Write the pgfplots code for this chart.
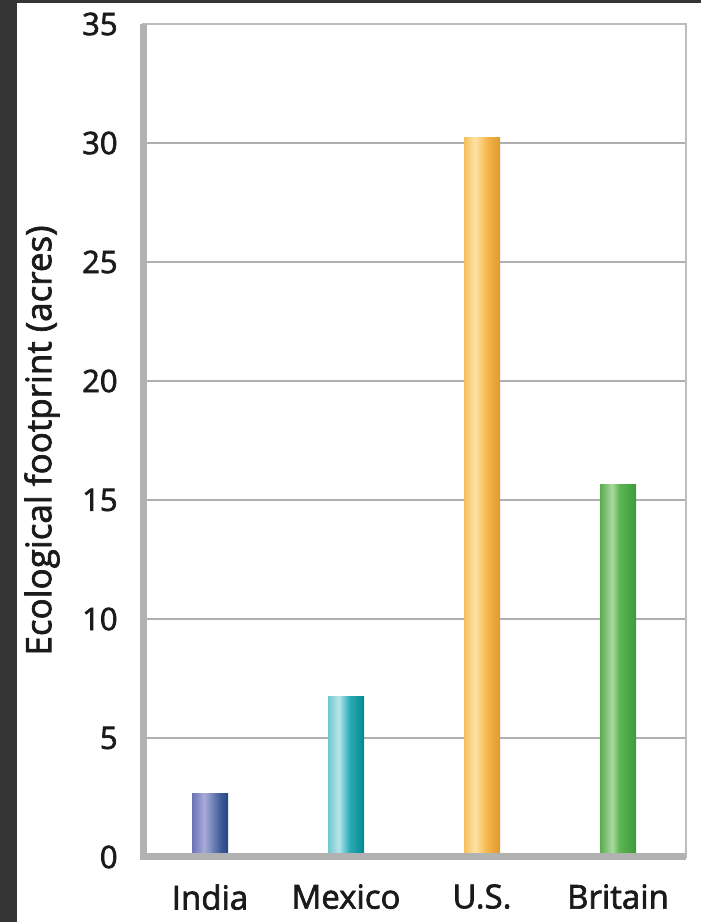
\documentclass[border=0pt]{standalone}
\usepackage{pgfplots}
\pgfplotsset{compat=1.18}
\usepackage{fontspec}
\setmainfont{Open Sans}
\newfontfamily\lab{Open Sans}[FakeBold=2]
\definecolor{darkframe}{HTML}{353535}
\definecolor{gridgray}{HTML}{AFAFAF}
\definecolor{bordergray}{HTML}{BDBDBD}
\definecolor{thickgray}{HTML}{B2B2B2}
\definecolor{txt}{HTML}{1A1A1A}
% India
\definecolor{inA}{HTML}{6C72B8}\definecolor{inB}{HTML}{A9ABD8}\definecolor{inC}{HTML}{3E5A98}\definecolor{inD}{HTML}{254583}
% Mexico
\definecolor{mxA}{HTML}{6EC8D2}\definecolor{mxB}{HTML}{B8E4E8}\definecolor{mxC}{HTML}{2EAAB5}\definecolor{mxD}{HTML}{008A92}
% US
\definecolor{usA}{HTML}{F7BF5A}\definecolor{usB}{HTML}{FFE2A6}\definecolor{usC}{HTML}{F2B449}\definecolor{usD}{HTML}{DE9A2C}
% Britain
\definecolor{brA}{HTML}{58AD4C}\definecolor{brB}{HTML}{ACD8A0}\definecolor{brC}{HTML}{5DB552}\definecolor{brD}{HTML}{3D9A3A}
\pgfdeclarehorizontalshading{indiash}{100bp}{color(0bp)=(inA); color(25bp)=(inA); color(42bp)=(inB); color(65bp)=(inC); color(75bp)=(inD); color(100bp)=(inD)}
\pgfdeclarehorizontalshading{mexsh}{100bp}{color(0bp)=(mxA); color(25bp)=(mxA); color(40bp)=(mxB); color(55bp)=(mxC); color(75bp)=(mxD); color(100bp)=(mxD)}
\pgfdeclarehorizontalshading{ussh}{100bp}{color(0bp)=(usA); color(25bp)=(usA); color(40bp)=(usB); color(58bp)=(usC); color(75bp)=(usD); color(100bp)=(usD)}
\pgfdeclarehorizontalshading{brsh}{100bp}{color(0bp)=(brA); color(25bp)=(brA); color(42bp)=(brB); color(52bp)=(brC); color(75bp)=(brD); color(100bp)=(brD)}
\begin{document}
\begin{tikzpicture}
\useasboundingbox (0,0) rectangle (350.5pt,461pt);
\fill[darkframe] (0,0) rectangle (350.5pt,461pt);
\fill[white] (8.5pt,0) rectangle (350.5pt,459.25pt);
\begin{axis}[
  scale only axis, width=271.25pt, height=416.5pt,
  at={(71.75pt,32.5pt)}, anchor=south west,
  xmin=-0.489, xmax=3.5, ymin=0, ymax=35,
  xtick={0,1,2,3}, xticklabels={India,Mexico,U.S.,Britain},
  ytick={0,5,...,35},
  major tick length=0pt,
  ymajorgrids, grid style={color=gridgray, line width=1pt},
  axis line style={color=bordergray, line width=1pt},
  clip=false,
  /pgf/number format/assume math mode=true,
  ticklabel style={font=\lab\fontsize{16.5}{19}\selectfont, text=txt},
  yticklabel style={anchor=east, inner sep=0pt, xshift=-12.75pt, font=\lab\fontsize{15.5}{18}\selectfont},
  xticklabel style={anchor=north, inner sep=0pt, yshift=-13.5pt},
  ylabel={Ecological footprint (acres)},
  every axis y label/.style={at={(axis description cs:-0.1871,0.5)}, rotate=90, anchor=center, font=\lab\fontsize{17.5}{20}\selectfont, text=txt},
]
\addplot[ybar, bar width=18pt, bar shift=0pt, draw=none, shading=indiash] coordinates {(0,2.65)};
\addplot[ybar, bar width=18pt, bar shift=0pt, draw=none, shading=mexsh] coordinates {(1,6.75)};
\addplot[ybar, bar width=18pt, bar shift=0pt, draw=none, shading=ussh] coordinates {(2,30.25)};
\addplot[ybar, bar width=18pt, bar shift=0pt, draw=none, shading=brsh] coordinates {(3,15.65)};
\draw[line width=3.5pt, thickgray, line join=miter] (rel axis cs:0,1) -- (rel axis cs:0,0) -- (rel axis cs:1,0);
\end{axis}
\end{tikzpicture}
\end{document}
